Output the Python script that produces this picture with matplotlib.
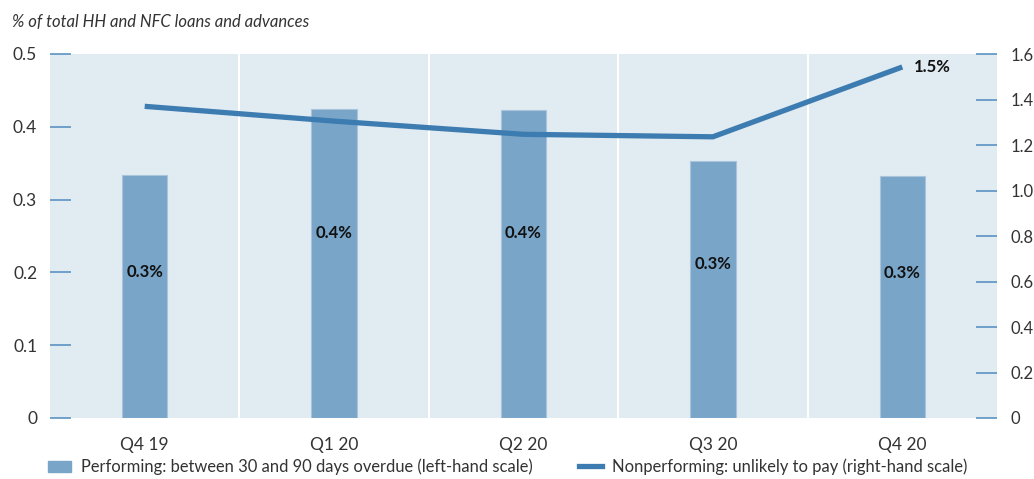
import numpy as np
import matplotlib.pyplot as plt
from matplotlib.patches import Patch
from matplotlib.lines import Line2D

plt.rcParams['font.family'] = ['Lato', 'DejaVu Sans']

categories = ["Q4 19", "Q1 20", "Q2 20", "Q3 20", "Q4 20"]
performing = [0.334, 0.424, 0.423, 0.353, 0.332]
nonperforming = [1.37, 1.305, 1.247, 1.236, 1.543]
bar_labels = ["0.3%", "0.4%", "0.4%", "0.3%", "0.3%"]
last_label = "1.5%"
left_ticks = [0, 0.1, 0.2, 0.3, 0.4, 0.5]
left_tick_labels = ["0", "0.1", "0.2", "0.3", "0.4", "0.5"]
right_ticks = [0, 0.2, 0.4, 0.6, 0.8, 1.0, 1.2, 1.4, 1.6]
right_tick_labels = ["0", "0.2", "0.4", "0.6", "0.8", "1.0", "1.2", "1.4", "1.6"]

bg = "#e1ebf2"
bar_col = "#79a5c8"
line_col = "#3d7cb0"
tick_col = "#5b93c2"
txt_col = "#333333"

fig = plt.figure(figsize=(10.34, 4.79), dpi=100)
ax = fig.add_axes([50 / 1034, 1 - 418 / 479, 947 / 1034, 364 / 479])
ax.set_facecolor(bg)
x = np.arange(len(categories))

ax.bar(x, performing, width=0.24, color=bar_col, edgecolor="#a8c5dc", linewidth=0.8, zorder=2)
for xi in x[:-1]:
    ax.axvline(xi + 0.5, color="white", linewidth=1.5, zorder=1)
for xi, v, lab in zip(x, performing, bar_labels):
    ax.text(xi, v * 0.6, lab, ha="center", va="center", fontsize=12, fontweight="bold",
            color="#111111", zorder=5)

ax.set_xlim(-0.5, len(categories) - 0.5)
ax.set_ylim(0, 0.5)
ax.set_yticks(left_ticks)
ax.set_yticklabels(left_tick_labels)
ax.set_xticks(x)
ax.set_xticklabels(categories)
ax.tick_params(axis="x", length=0, pad=14, labelsize=12.5, labelcolor=txt_col)
ax.tick_params(axis="y", direction="in", length=15, width=1.2, color=tick_col,
               pad=-1, labelsize=12.5, labelcolor=txt_col)
for lab in ax.get_yticklabels():
    lab.set_x(-0.015)
for s in ax.spines.values():
    s.set_visible(False)

ax2 = ax.twinx()
ax2.plot(x, nonperforming, color=line_col, linewidth=3.8, solid_capstyle="butt", zorder=4)
ax2.text(x[-1] + 0.06, nonperforming[-1], last_label, ha="left", va="center",
         fontsize=12, fontweight="bold", color="#111111")
ax2.set_ylim(0, 1.6)
ax2.set_yticks(right_ticks)
ax2.set_yticklabels(right_tick_labels)
ax2.tick_params(axis="y", direction="in", length=15, width=1.2, color=tick_col,
                pad=10, labelsize=12, labelcolor=txt_col)
for s in ax2.spines.values():
    s.set_visible(False)

fig.text(12 / 1034, 1 - 22 / 479, "% of total HH and NFC loans and advances",
         fontsize=12, style="italic", color=txt_col, va="center", ha="left")

handles = [Patch(facecolor=bar_col, edgecolor=bar_col),
           Line2D([0], [0], color=line_col, linewidth=3.8)]
labels = ["Performing: between 30 and 90 days overdue (left-hand scale)",
          "Nonperforming: unlikely to pay (right-hand scale)"]
fig.legend(handles, labels, loc="center left", bbox_to_anchor=(48 / 1034, 1 - 467 / 479),
           ncol=2, frameon=False, fontsize=11.9, handlelength=1.4, handleheight=0.7,
           handletextpad=0.6, columnspacing=2.8, borderpad=0, borderaxespad=0,
           labelcolor=txt_col)

fig.savefig("out.png", dpi=100)
plt.close(fig)
